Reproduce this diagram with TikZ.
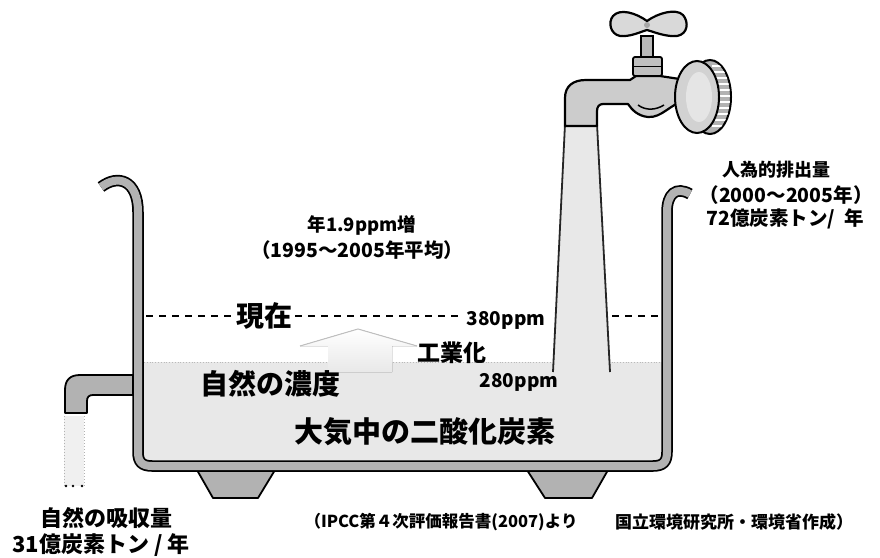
\documentclass[tikz,border=0pt]{standalone}
\usepackage{fontspec}
\newfontfamily\jp{Noto Sans CJK JP}

\begin{document}
\begin{tikzpicture}[x=1pt,y=-1pt,
  txt/.style={inner sep=0pt,font=\jp\bfseries\fontsize{#1pt}{#1pt}\selectfont},
  dashline/.style={line width=1.4pt,dash pattern=on 7pt off 6pt},
  pipe/.style={fill=gray!60,draw=black,line width=1.8pt,line join=round}]

\useasboundingbox (0,0) rectangle (880,557);

% liquid in the tub
\fill[gray!18] (143,362) rectangle (662,461);
\draw[gray!55,dotted,line width=0.8pt] (144,362) -- (661,362);

% feet
\filldraw[pipe] (197,470) -- (275,470) -- (258,498) -- (213,498) -- cycle;
\filldraw[pipe] (527,470) -- (608,470) -- (592,498) -- (545,498) -- cycle;

% tub walls
\draw[line join=round,line width=8pt,draw=gray!60,preaction={draw=black,line width=11.5pt}]
  (101,187) .. controls (118,174) and (138,180) .. (138,212)
  -- (138,452) .. controls (138,462) and (142,466) .. (152,466)
  -- (653,466) .. controls (663,466) and (667,462) .. (667,452)
  -- (667,212) .. controls (667,194) and (676,186) .. (690,194);

% drain pipe on the left
\filldraw[pipe] (133,375) -- (80,375) .. controls (70,375) and (65,380) .. (65,390)
  -- (65,413) -- (87,413) -- (87,401) .. controls (87,397) and (89,395) .. (93,395)
  -- (133,395) -- cycle;
\fill[gray!12] (64,416) rectangle (84,486);
\draw[gray!60,dotted,line width=1pt] (64,416) -- (64,486) (84,416) -- (84,486);
\fill (66,486) circle (1.3) (73,486) circle (1.3) (82,486) circle (1.3);

% stream from the tap
\fill[gray!18] (565,124) -- (597,124) -- (610,372) -- (553,372) -- cycle;
\draw[line width=1.8pt,gray!30!black] (565,124) -- (553,372);
\draw[line width=1.8pt,gray!30!black] (597,124) -- (610,372);

% tap body
\filldraw[fill=gray!40,line width=2.2pt,line join=round]
  (565,126) -- (565,98) .. controls (565,86) and (573,80) .. (586,80)
  -- (630,80) -- (636,76) -- (660,76) -- (686,80) -- (686,100)
  .. controls (670,104) and (662,118) .. (648,117)
  .. controls (638,116) and (632,110) .. (628,104)
  -- (603,104) .. controls (599,104) and (597,107) .. (597,111) -- (597,126) -- cycle;
\draw[line width=1.5pt] (638,105) .. controls (646,111) and (656,110) .. (664,105);
\filldraw[fill=gray!55,line width=1.8pt] (641,36) rectangle (653,57);
\filldraw[fill=gray!50,line width=1.8pt,rounded corners=2pt] (633,57) rectangle (662,76);
\draw[line width=1pt] (633,66) -- (662,66);
\filldraw[fill=gray!30,line width=2.2pt]
  (647,21) .. controls (636,13) and (620,8) .. (613,16)
  .. controls (608,22) and (610,34) .. (620,36)
  .. controls (630,37) and (640,32) .. (647,30)
  .. controls (654,32) and (666,37) .. (677,36)
  .. controls (688,34) and (689,22) .. (683,15)
  .. controls (676,8) and (658,13) .. (647,21) -- cycle;
\fill[gray!70] (647,25) circle (3);

% outlet head
\filldraw[fill=gray!60,line width=2pt] (710,97) ellipse [x radius=21, y radius=37];
\begin{scope}
\clip (710,97) ellipse [x radius=20, y radius=36];
\foreach \yy in {66,72,...,128}
  \draw[white,line width=1.6pt] (712,\yy) -- (732,\yy);
\end{scope}
\filldraw[fill=gray!35,line width=2pt] (697,97) ellipse [x radius=22, y radius=36];
\fill[gray!20] (699,97) ellipse [x radius=13, y radius=25];

% rising level
\fill[top color=white,bottom color=gray!18]
  (328,372) -- (328,346) -- (300,346) -- (358,329) -- (417,346) -- (392,346) -- (392,372) -- cycle;
\draw[gray!50,line width=1pt] (300,346) -- (358,329) -- (417,346);

% labels
\node[txt=18] (emit1) at (776,170) {人為的排出量};
\node[txt=19.5] (emit2) at (786,195) {（2000〜2005年）};
\node[txt=19.5] (emit3) at (785,219) {72億炭素トン/ \ 年};
\node[txt=18.5] (rate1) at (362,225) {年1.9ppm増};
\node[txt=19.5] (rate2) at (357,250) {（1995〜2005年平均）};
\node[txt=28] (now) at (264,316) {現在};
\node[txt=19] (ppm380) at (506,320) {380ppm};
\node[txt=23] (ind) at (452,353) {工業化};
\node[txt=19] (ppm280) at (519,382) {280ppm};
\node[txt=28] (nat) at (270,384) {自然の濃度};
\node[txt=29] (co2) at (425,432) {大気中の二酸化炭素};
\node[txt=22] (sink1) at (106,518) {自然の吸収量};
\node[txt=22] (sink2) at (101,545) {31億炭素トン / 年};
\node[txt=16.5] (src1) at (441,522) {（IPCC第４次評価報告書(2007)より};
\node[txt=17] (src2) at (734,522) {国立環境研究所・環境省作成）};

% present level
\coordinate (dl) at (146,316);
\coordinate (dr1) at (612,316);
\coordinate (dr2) at (660,316);
\draw[dashline] (dl) -- ([xshift=-3pt]now.west);
\draw[dashline] ([xshift=3pt]now.east) -- ([xshift=-3pt]ppm380.west |- now.east);
\draw[dashline] (dr1) -- (dr2);

\end{tikzpicture}
\end{document}
